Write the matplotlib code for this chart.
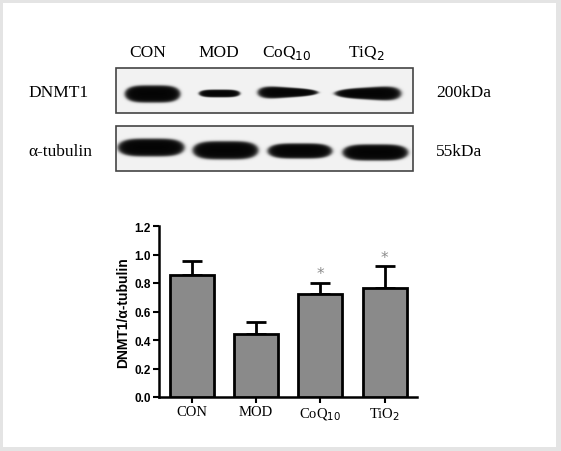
import numpy as np
import matplotlib
matplotlib.use('Agg')
import matplotlib.pyplot as plt
from matplotlib.patches import Rectangle

# ---- data ----
groups = ['CON', 'MOD', 'CoQ$_{10}$', 'TiO$_2$']
blot_lanes = ['CON', 'MOD', 'CoQ$_{10}$', 'TiQ$_2$']
ratio = [0.856, 0.44, 0.723, 0.765]
sem = [0.098, 0.084, 0.077, 0.152]
sig = ['', '', '*', '*']
yticks = [0.0, 0.2, 0.4, 0.6, 0.8, 1.0, 1.2]

# blot bands (pixel space of the figure): start, end, centre, half-height left/right
dnmt1_x0 = [125, 199, 258, 335]
dnmt1_x1 = [180, 240, 318, 401]
dnmt1_yc = [95, 94.5, 93.5, 94.5]
dnmt1_hl = [8.5, 3.8, 7.0, 4.0]
dnmt1_hr = [8.5, 3.8, 3.0, 8.0]
tub_x0 = [118, 193, 268, 343]
tub_x1 = [184, 258, 332, 408]
tub_yc = [148.5, 151.3, 152, 153.5]
tub_hl = [8.8, 9.0, 7.5, 8.0]
tub_hr = [8.8, 9.0, 7.5, 8.0]

W, H = 561, 452
fig = plt.figure(figsize=(W / 100, H / 100), dpi=100)
fig.patch.set_facecolor('#e4e4e4')

# full-figure pixel axes for the blot panel
bg = fig.add_axes([0, 0, 1, 1])
bg.set_xlim(0, W)
bg.set_ylim(H, 0)
bg.axis('off')
bg.add_patch(Rectangle((3, 4), 553, 444, facecolor='white', edgecolor='none'))

serif = 'Liberation Serif'


def draw_blot(x0s, x1s, ycs, hls, hrs, box):
    bx0, by0, bx1, by1 = box
    res = 3
    xs = np.linspace(bx0, bx1, int((bx1 - bx0) * res))
    ys = np.linspace(by0, by1, int((by1 - by0) * res))
    X, Y = np.meshgrid(xs, ys)
    img = np.full(X.shape, 0.95)
    for x0, x1, yc, hl, hr in zip(x0s, x1s, ycs, hls, hrs):
        xc = (x0 + x1) / 2
        hw = (x1 - x0) / 2
        t = np.clip((X - x0) / (x1 - x0), 0, 1)
        h = hl + (hr - hl) * t
        d = ((X - xc) / hw) ** 4 + ((Y - yc) / h) ** 2
        dark = 1 / (1 + np.exp((d - 1) * 6))
        img = img * (1 - dark) + 0.02 * dark
    bg.imshow(img, cmap='gray', vmin=0, vmax=1, extent=[bx0, bx1, by1, by0],
              aspect='auto', interpolation='bilinear', zorder=2)
    bg.add_patch(Rectangle((bx0, by0), bx1 - bx0, by1 - by0, facecolor='none',
                           edgecolor='#444444', linewidth=1.2, zorder=3))


draw_blot(dnmt1_x0, dnmt1_x1, dnmt1_yc, dnmt1_hl, dnmt1_hr, (116, 69, 413, 114))
draw_blot(tub_x0, tub_x1, tub_yc, tub_hl, tub_hr, (116, 127, 413, 172))
bg.set_xlim(0, W)
bg.set_ylim(H, 0)

lane_x = [148, 219, 287, 366]
for x, lab in zip(lane_x, blot_lanes):
    bg.text(x, 53, lab, ha='center', va='center', fontsize=12.5, family=serif)
bg.text(28, 93, 'DNMT1', ha='left', va='center', fontsize=12.5, family=serif)
bg.text(28, 152, 'α-tubulin', ha='left', va='center', fontsize=12.5, family=serif)
bg.text(436, 93, '200kDa', ha='left', va='center', fontsize=12.5, family=serif)
bg.text(436, 152, '55kDa', ha='left', va='center', fontsize=12.5, family=serif)

# ---- bar chart ----
ax = fig.add_axes([159 / W, 1 - 398 / H, 258 / W, 171 / H])
ax.patch.set_alpha(0)
x = np.arange(len(groups))
ax.bar(x, ratio, width=0.685, color='#8a8a8a', edgecolor='black', linewidth=2, zorder=3)
ax.errorbar(x, ratio, yerr=[np.zeros(len(sem)), sem], fmt='none', ecolor='black',
            elinewidth=2, capsize=7, capthick=2, zorder=2)
for xi, r, s, m in zip(x, ratio, sem, sig):
    if m:
        ax.text(xi, r + s + 0.065, m, ha='center', va='center', fontsize=11,
                color='#8c8c8c')
ax.set_xlim(-0.514, 3.505)
ax.set_ylim(0, 1.2)
ax.set_yticks(yticks)
ax.set_yticklabels([f'{v:.1f}' for v in yticks], fontsize=8.5, fontweight='bold',
                   family='Liberation Sans')
ax.set_xticks(x)
ax.set_xticklabels(groups, fontsize=10.5, family=serif)
ax.spines['top'].set_visible(False)
ax.spines['right'].set_visible(False)
ax.spines['left'].set_linewidth(1.8)
ax.spines['bottom'].set_linewidth(1.8)
ax.tick_params(axis='both', width=1.5, length=4, pad=2)
ax.set_ylabel('DNMT1/α-tubulin', fontsize=10, fontweight='bold',
              family='Liberation Sans', labelpad=3)

fig.savefig('out.png', dpi=100, facecolor=fig.get_facecolor())
